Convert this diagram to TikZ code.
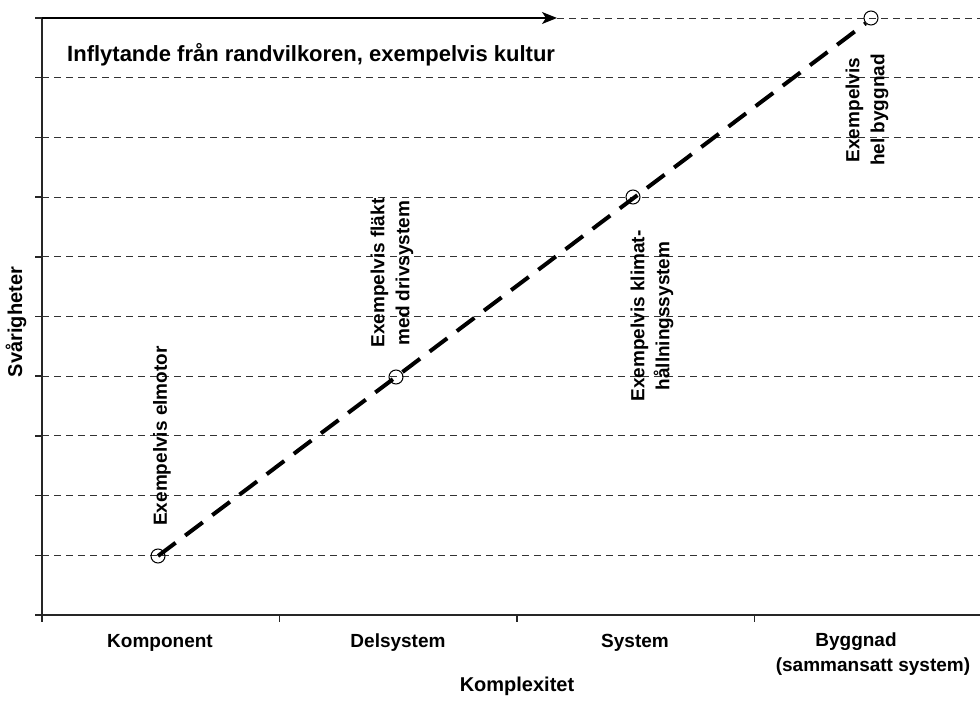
\documentclass[tikz,border=0pt]{standalone}
\usepackage{fontspec}
\setmainfont{Liberation Sans}
\usetikzlibrary{arrows.meta}
\begin{document}
\begin{tikzpicture}[x=1pt,y=-1pt,
  gridline/.style={draw=black!80, line width=0.9pt, dash pattern=on 7pt off 5pt},
  axisline/.style={draw=black!85, line width=1.6pt},
  trend/.style={draw=black, line width=4pt, dash pattern=on 22pt off 12pt},
  ptmark/.style={circle, draw=black, line width=1pt, minimum size=14pt, inner sep=0pt},
  ticklbl/.style={font=\fontsize{19}{25}\selectfont\bfseries, align=center, inner sep=0pt},
  ann/.style={rotate=90, font=\fontsize{19}{25}\selectfont\bfseries, align=center, inner sep=0pt}]
\useasboundingbox (0,0) rectangle (980,722);
% horizontal dashed gridlines
\foreach \k in {1,...,9}{
  \draw[gridline] (42,{18+59.7*\k}) -- (980,{18+59.7*\k});
}
\draw[gridline] (557,18) -- (980,18);
% axes
\coordinate (o) at (42,615);
\coordinate (ytop) at (42,18);
\coordinate (xend) at (980,615);
\draw[axisline] (ytop) -- (o) -- (xend);
\foreach \k in {0,...,10}{
  \draw[axisline] (35,{18+59.7*\k}) -- (42,{18+59.7*\k});
}
\foreach \x in {42,279.5,517,754.5}{
  \draw[axisline] (\x,615) -- (\x,622);
}
% arrow along top
\coordinate (aend) at (557,18);
\draw[line width=1.3pt, -{Stealth[length=15pt,width=12pt,inset=4pt]}] (ytop) -- (aend);
\node[anchor=west, inner sep=0pt, font=\fontsize{22}{26}\selectfont\bfseries] (title) at (67,55) {Inflytande från randvilkoren, exempelvis kultur};
% points
\node[ptmark] (p1) at (158,556) {};
\node[ptmark] (p2) at (396,377) {};
\node[ptmark] (p3) at (633,197) {};
\node[ptmark] (p4) at (871,18) {};
\draw[trend] (p1.center) -- (p4.south west);
% annotations
\node[ann] (a1) at (162,436) {Exempelvis elmotor};
\node[ann] (a2) at (392,273) {Exempelvis fläkt\\med drivsystem};
\node[ann] (a3) at (652,316) {Exempelvis klimat-\\hållningssystem};
\node[ann] (a4) at (867,110) {Exempelvis\\hel byggnad};
% axis labels
\node[ticklbl] (c1) at (160,643) {Komponent};
\node[ticklbl] (c2) at (398,643) {Delsystem};
\node[ticklbl] (c3) at (635,643) {System};
\node[ticklbl, anchor=north] (c4) at (873,633) {Byggnad\hspace*{34pt}\\(sammansatt system)};
\node[rotate=90, inner sep=0pt, font=\fontsize{20}{24}\selectfont\bfseries] (ylab) at (16,322) {Svårigheter};
\node[inner sep=0pt, font=\fontsize{20}{24}\selectfont\bfseries] (xlab) at (517,686) {Komplexitet};
\end{tikzpicture}
\end{document}
